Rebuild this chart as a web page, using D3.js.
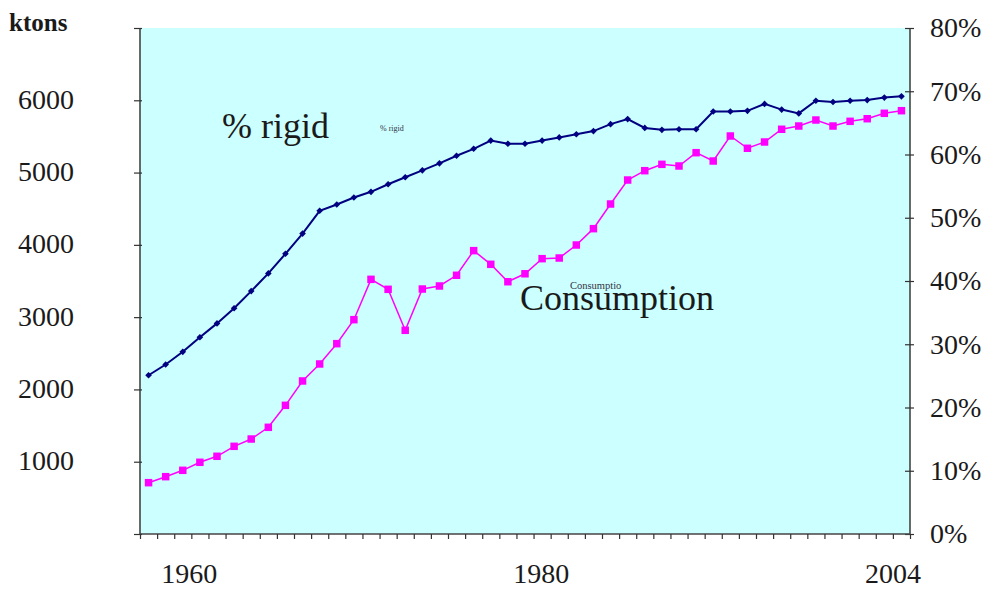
<!DOCTYPE html>
<html>
<head>
<meta charset="utf-8">
<script src="https://cdn.jsdelivr.net/npm/d3@7"></script>
<style>
  body { margin: 0; background: #fff; }
  svg text { font-family: "Liberation Serif", "Times New Roman", serif; fill: #1a1a1a; }
</style>
</head>
<body>
<svg id="chart" width="989" height="589"></svg>
<script>
// years 1960..2004
var years = [1960,1961,1962,1963,1964,1965,1966,1967,1968,1969,1970,1971,1972,1973,1974,1975,1976,1977,1978,1979,1980,1981,1982,1983,1984,1985,1986,1987,1988,1989,1990,1991,1992,1993,1994,1995,1996,1997,1998,1999,2000,2001,2002,2003,2004];

// consumption, ktons (left axis)
var consumption = [710,793,881,992,1075,1213,1314,1476,1780,2117,2352,2633,2965,3523,3385,2818,3389,3431,3579,3920,3731,3490,3600,3809,3818,3998,4224,4565,4897,5026,5114,5091,5275,5160,5506,5336,5423,5599,5644,5727,5644,5709,5745,5820,5856];

// share rigid, fraction (right axis)
var rigid = [0.251,0.268,0.288,0.311,0.333,0.357,0.384,0.412,0.443,0.475,0.511,0.521,0.532,0.541,0.553,0.564,0.575,0.586,0.598,0.609,0.622,0.617,0.617,0.622,0.627,0.632,0.637,0.648,0.656,0.642,0.639,0.640,0.640,0.668,0.668,0.669,0.680,0.671,0.665,0.685,0.683,0.685,0.686,0.690,0.692];

var leftTicks = [0,1000,2000,3000,4000,5000,6000,7000];
var leftLabels = [1000,2000,3000,4000,5000,6000];
var rightTicks = [0,0.1,0.2,0.3,0.4,0.5,0.6,0.7,0.8];
var xLabels = ["1960","1980","2004"];

var svg = d3.select('#chart');
var plot = { x0: 140, x1: 910, y0: 28, y1: 534 };

var x = d3.scalePoint().domain(years).range([plot.x0, plot.x1]).padding(0.5);
var xEdges = d3.scaleLinear().domain([0, years.length]).range([plot.x0, plot.x1]);
var yL = d3.scaleLinear().domain([0, 7000]).range([plot.y1, plot.y0]);
var yR = d3.scaleLinear().domain([0, 0.8]).range([plot.y1, plot.y0]);
var pw = plot.x1 - plot.x0;
var xLab = d3.scalePoint().domain(xLabels)
    .range([plot.x0 + pw * 0.064, plot.x0 + pw * 0.978]);

// plot background
svg.append("rect")
    .attr("x", plot.x0).attr("y", plot.y0)
    .attr("width", pw).attr("height", plot.y1 - plot.y0)
    .attr("fill", "#ccffff");

// left axis
var gL = svg.append("g")
    .attr("transform", "translate(" + plot.x0 + ",0)")
    .call(d3.axisLeft(yL).tickValues(leftTicks).tickSize(6).tickFormat(""));
gL.selectAll(".tick line").attr("x2", -6).attr("x1", 2);
svg.append("g").selectAll("text")
    .data(leftLabels).enter().append("text")
    .attr("x", 46).attr("y", function(d) { return yL(d); })
    .attr("dy", "0.3em")
    .attr("text-anchor", "middle")
    .style("font-size", "28px")
    .text(function(d) { return d; });

// right axis
var gR = svg.append("g")
    .attr("transform", "translate(" + plot.x1 + ",0)")
    .call(d3.axisRight(yR).tickValues(rightTicks).tickSize(4).tickPadding(16)
        .tickFormat(d3.format(".0%")));
gR.selectAll(".tick line").attr("x1", -5);
gR.selectAll("text").style("font-size", "28px").attr("font-family", null);

// bottom axis (category boundaries)
var gB = svg.append("g")
    .attr("transform", "translate(0," + plot.y1 + ")")
    .call(d3.axisBottom(xEdges).tickValues(d3.range(years.length + 1)).tickSize(5).tickFormat(""));

svg.selectAll(".domain").attr("stroke", "#444").attr("stroke-width", 1.6);
svg.selectAll(".tick line").attr("stroke", "#333").attr("stroke-width", 1.2);
gL.select(".domain").attr("d", "M0," + plot.y0 + "V" + plot.y1);
gR.select(".domain").attr("d", "M0," + plot.y0 + "V" + plot.y1);
gB.select(".domain").attr("d", "M" + plot.x0 + ",0H" + plot.x1);

// year labels
svg.append("g").selectAll("text")
    .data(xLabels).enter().append("text")
    .attr("x", function(d) { return xLab(d); })
    .attr("y", 583)
    .attr("text-anchor", "middle")
    .style("font-size", "28px")
    .text(function(d) { return d; });

svg.append("text").attr("x", 9).attr("y", 31)
    .style("font-size", "25px").style("font-weight", "bold")
    .text("ktons");

// % rigid line
var lineR = d3.line()
    .x(function(d, i) { return x(years[i]); })
    .y(function(d) { return yR(d); });
svg.append("path").datum(rigid)
    .attr("d", lineR)
    .attr("fill", "none").attr("stroke", "#000080").attr("stroke-width", 2);
svg.append("g").selectAll("path")
    .data(rigid).enter().append("path")
    .attr("d", d3.symbol().type(d3.symbolSquare).size(22))
    .attr("transform", function(d, i) { return "translate(" + x(years[i]) + "," + yR(d) + ") rotate(45)"; })
    .attr("fill", "#000080");

// consumption line
var lineC = d3.line()
    .x(function(d, i) { return x(years[i]); })
    .y(function(d) { return yL(d); });
svg.append("path").datum(consumption)
    .attr("d", lineC)
    .attr("fill", "none").attr("stroke", "#ff00ff").attr("stroke-width", 1.5);
svg.append("g").selectAll("path")
    .data(consumption).enter().append("path")
    .attr("d", d3.symbol().type(d3.symbolSquare).size(56))
    .attr("transform", function(d, i) { return "translate(" + x(years[i]) + "," + yL(d) + ")"; })
    .attr("fill", "#ff00ff");

// series labels
svg.append("text").attr("x", 222).attr("y", 138).style("font-size", "36px").text("% rigid");
svg.append("text").attr("x", 380).attr("y", 131).style("font-size", "8px").style("fill", "#334").text("% rigid");
svg.append("text").attr("x", 520).attr("y", 310).style("font-size", "36px").text("Consumption");
svg.append("text").attr("x", 570).attr("y", 289).style("font-size", "10.5px").style("fill", "#334").text("Consumptio");
</script>
</body>
</html>
